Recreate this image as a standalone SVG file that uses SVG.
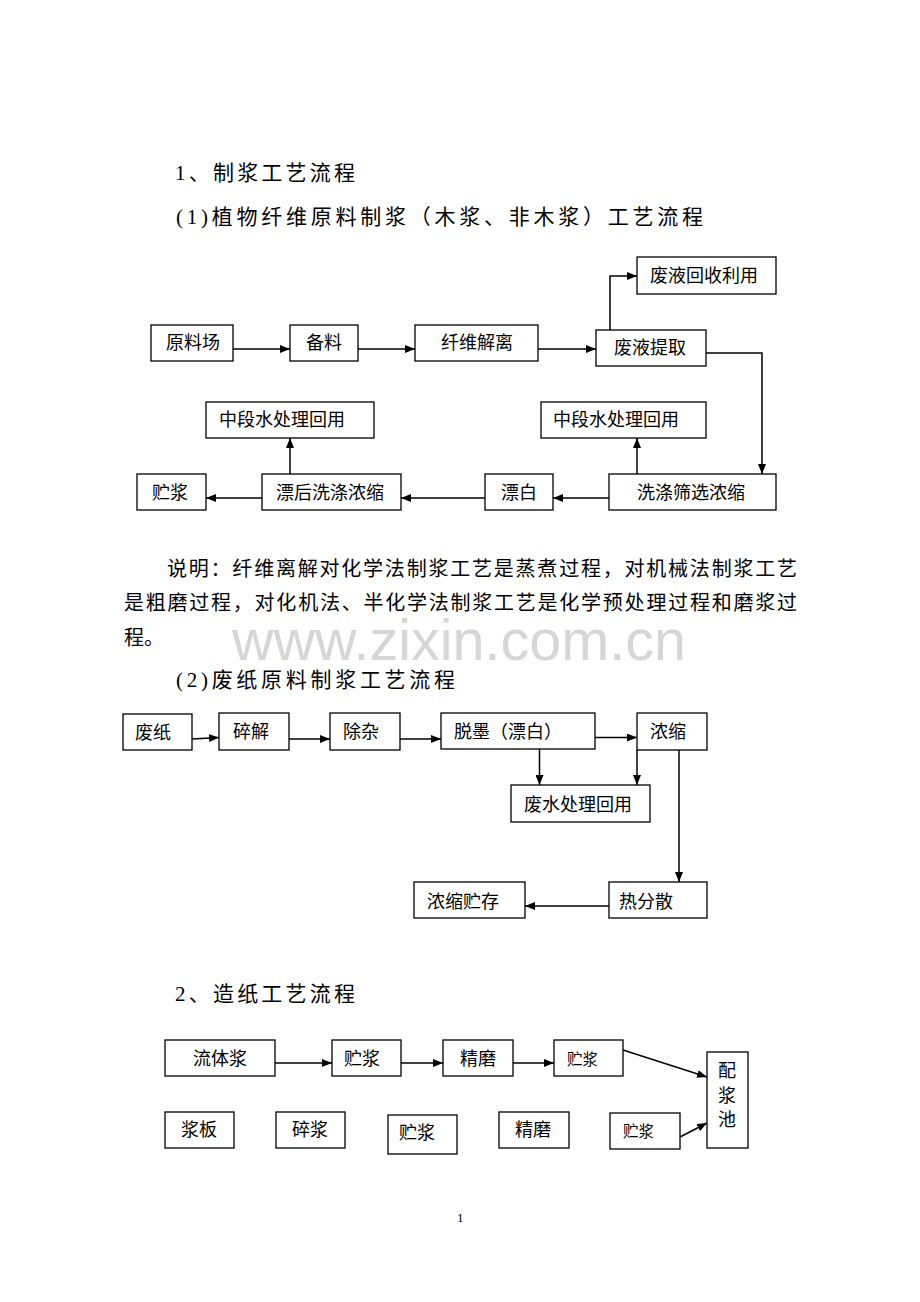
<svg xmlns="http://www.w3.org/2000/svg" width="920" height="1302" viewBox="0 0 920 1302">
<defs>
<marker id="ah" markerWidth="10" markerHeight="8" refX="10" refY="4" orient="auto" markerUnits="userSpaceOnUse"><path d="M0,0 L10,4 L0,8 z" fill="#000"/></marker>
<style>
text{font-family:"Liberation Serif","Noto Sans CJK SC",serif;fill:#000}
.b rect{fill:#fff;stroke:#000;stroke-width:1.3}
.b text{font-size:18px;dominant-baseline:central}
.s text{font-size:15.5px}
.h{font-size:21px}
.p{font-size:20px}
#conn path{fill:none;stroke:#000;stroke-width:1.5;marker-end:url(#ah)}
</style>
</defs>
<rect width="920" height="1302" fill="#fff"/>
<text class="h" x="175" y="180" textLength="180" lengthAdjust="spacing">1、制浆工艺流程</text>
<text class="h" x="176" y="224" textLength="527" lengthAdjust="spacing">(1)植物纤维原料制浆（木浆、非木浆）工艺流程</text>
<text x="232" y="660" font-size="58" style="font-family:'Liberation Sans',sans-serif;fill:#d6d6d6" textLength="454" lengthAdjust="spacingAndGlyphs">www.zixin.com.cn</text>
<text class="p" x="167" y="576" textLength="630" lengthAdjust="spacing">说明：纤维离解对化学法制浆工艺是蒸煮过程，对机械法制浆工艺</text>
<text class="p" x="124" y="610" textLength="673" lengthAdjust="spacing">是粗磨过程，对化机法、半化学法制浆工艺是化学预处理过程和磨浆过</text>
<text class="p" x="124" y="645">程。</text>
<text class="h" x="176" y="687" textLength="279" lengthAdjust="spacing">(2)废纸原料制浆工艺流程</text>
<text class="h" x="175" y="1001" textLength="180" lengthAdjust="spacing">2、造纸工艺流程</text>
<text x="457" y="1222" font-size="13">1</text>

<g id="conn">
<path d="M233,349 H290"/>
<path d="M358,349 H415"/>
<path d="M538,349 H596"/>
<path d="M610,330 V276 H637"/>
<path d="M706,353 H762 V474"/>
<path d="M609,498 H553"/>
<path d="M485,498 H401"/>
<path d="M262,498 H206"/>
<path d="M290,474 V438"/>
<path d="M637,474 V438"/>
<path d="M192,739 L219,737.5"/>
<path d="M289,739 H330"/>
<path d="M400,739 H441"/>
<path d="M595,737.5 H637"/>
<path d="M539.5,749 V785"/>
<path d="M637,750 V785"/>
<path d="M679,750 V882"/>
<path d="M609,906 H525"/>
<path d="M275,1063 H332"/>
<path d="M401,1063 H443"/>
<path d="M513,1063 H554"/>
<path d="M623,1050 L707,1077"/>
<path d="M680,1137 L707,1123"/>
</g>

<g id="n1" class="b"><rect x="637" y="257" width="139" height="37"/><text x="650" y="276">废液回收利用</text></g>
<g id="n2" class="b"><rect x="151" y="325" width="82" height="36"/><text x="166" y="343">原料场</text></g>
<g id="n3" class="b"><rect x="290" y="325" width="68" height="36"/><text x="306" y="343">备料</text></g>
<g id="n4" class="b"><rect x="415" y="325" width="123" height="36"/><text x="441" y="343">纤维解离</text></g>
<g id="n5" class="b"><rect x="596" y="330" width="110" height="36"/><text x="614" y="348">废液提取</text></g>
<g id="n6" class="b"><rect x="206" y="402" width="168" height="36"/><text x="219" y="420">中段水处理回用</text></g>
<g id="n7" class="b"><rect x="541" y="402" width="165" height="36"/><text x="553" y="420">中段水处理回用</text></g>
<g id="n8" class="b"><rect x="137" y="474" width="69" height="36"/><text x="152" y="493">贮浆</text></g>
<g id="n9" class="b"><rect x="262" y="474" width="139" height="36"/><text x="276" y="493">漂后洗涤浓缩</text></g>
<g id="n10" class="b"><rect x="485" y="474" width="68" height="36"/><text x="501" y="493">漂白</text></g>
<g id="n11" class="b"><rect x="609" y="474" width="167" height="36"/><text x="637" y="493">洗涤筛选浓缩</text></g>

<g id="n12" class="b"><rect x="123" y="714" width="69" height="36"/><text x="135" y="733">废纸</text></g>
<g id="n13" class="b"><rect x="219" y="713" width="70" height="37"/><text x="233" y="732">碎解</text></g>
<g id="n14" class="b"><rect x="330" y="713" width="70" height="37"/><text x="343" y="732">除杂</text></g>
<g id="n15" class="b"><rect x="441" y="713" width="154" height="36"/><text x="454" y="732">脱墨（漂白）</text></g>
<g id="n16" class="b"><rect x="637" y="713" width="70" height="37"/><text x="650" y="732">浓缩</text></g>
<g id="n17" class="b"><rect x="511" y="785" width="139" height="37"/><text x="524" y="805">废水处理回用</text></g>
<g id="n18" class="b"><rect x="609" y="882" width="98" height="36"/><text x="619" y="902">热分散</text></g>
<g id="n19" class="b"><rect x="414" y="882" width="111" height="36"/><text x="427" y="902">浓缩贮存</text></g>

<g id="n20" class="b"><rect x="165" y="1040" width="110" height="36"/><text x="193" y="1059">流体浆</text></g>
<g id="n21" class="b"><rect x="332" y="1040" width="69" height="36"/><text x="344" y="1059">贮浆</text></g>
<g id="n22" class="b"><rect x="443" y="1040" width="70" height="36"/><text x="460" y="1059">精磨</text></g>
<g id="n23" class="b s"><rect x="554" y="1040" width="69" height="36"/><text x="567" y="1059">贮浆</text></g>
<g id="n24" class="b"><rect x="707" y="1052" width="41" height="96"/><text x="727" y="1071" text-anchor="middle">配</text><text x="727" y="1096" text-anchor="middle">浆</text><text x="727" y="1120" text-anchor="middle">池</text></g>
<g id="n25" class="b"><rect x="165" y="1112" width="69" height="36"/><text x="181" y="1130">浆板</text></g>
<g id="n26" class="b"><rect x="276" y="1112" width="69" height="36"/><text x="292" y="1130">碎浆</text></g>
<g id="n27" class="b"><rect x="388" y="1115" width="69" height="39"/><text x="399" y="1133">贮浆</text></g>
<g id="n28" class="b"><rect x="499" y="1112" width="70" height="36"/><text x="515" y="1130">精磨</text></g>
<g id="n29" class="b s"><rect x="610" y="1113" width="70" height="36"/><text x="623" y="1131">贮浆</text></g>
</svg>
